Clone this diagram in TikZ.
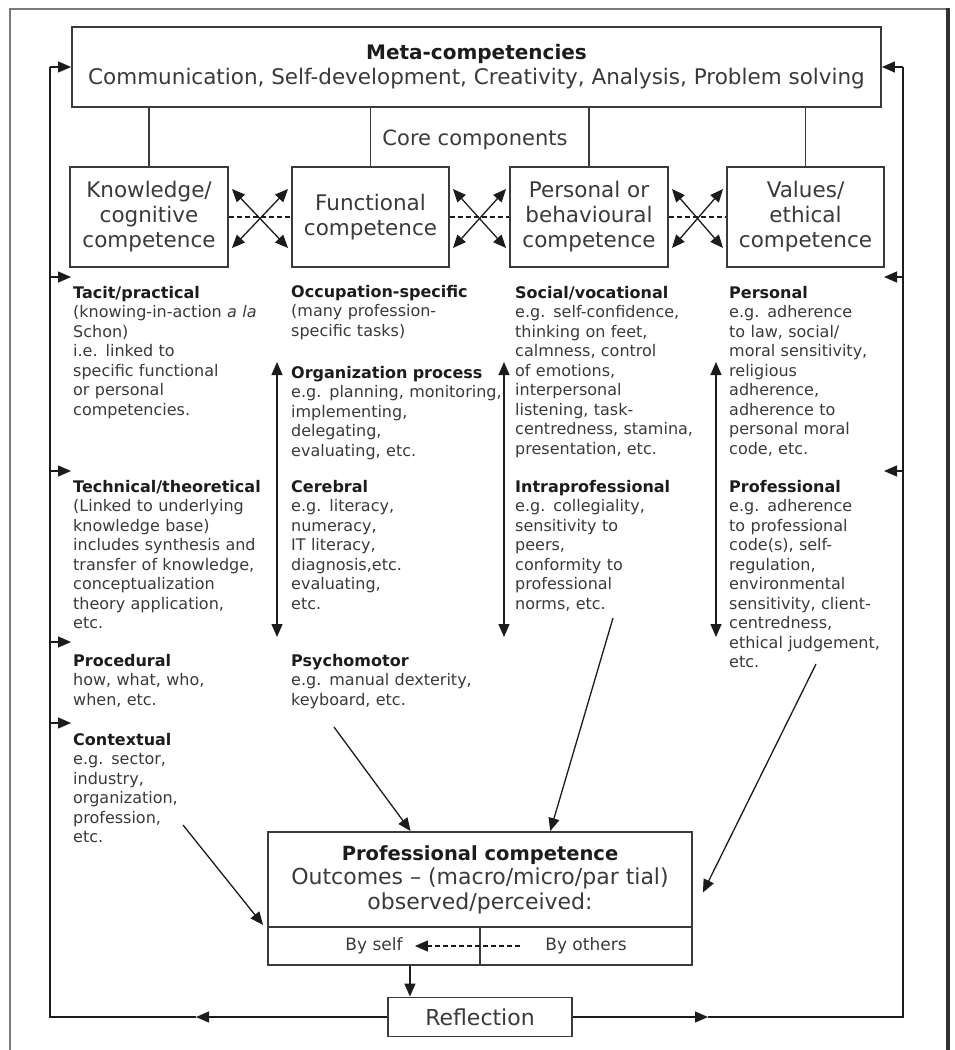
\documentclass[tikz,border=0pt]{standalone}
\usepackage{fontspec}
\setmainfont{DejaVu Sans}
\usetikzlibrary{arrows.meta,calc}
\definecolor{ink}{HTML}{3A3A3A}
\definecolor{dark}{HTML}{1C1C1C}
\definecolor{framegray}{HTML}{7A7A7A}
\newcommand\headline[1]{\textbf{\color{dark}#1}}
\hyphenpenalty=10000
\exhyphenpenalty=10000
\begin{document}
\begin{tikzpicture}[x=1pt,y=-1pt,
  >={Triangle[length=13pt,width=11pt]},
  line/.style={draw=dark, line width=1.3pt},
  box/.style={draw=ink, line width=1.9pt, fill=white, align=center, inner sep=0pt, text=ink},
  corebox/.style={box, minimum height=100pt, font=\fontsize{21.5}{25}\selectfont},
  body/.style={anchor=base west, inner sep=0pt, align=left, text=ink,
    font=\fontsize{16}{19.5}\selectfont},
  arrowto/.style={->},
  twoway/.style={<->},
  dashline/.style={line, dash pattern=on 5pt off 3pt}
]
\useasboundingbox (0,0) rectangle (955,1050);
\fill[white] (0,0) rectangle (955,1050);

% page frame
\draw[line width=2pt, draw=framegray] (10,1050) -- (10,9) -- (948,9);
\draw[line width=3.5pt, draw=black!80] (948,8) -- (948,1050);

% meta-competencies
\node[box, minimum width=809pt, minimum height=80pt, font=\fontsize{21.5}{25}\selectfont] (meta) at (476.5,67)
  {{\fontsize{20}{25}\selectfont\headline{Meta-competencies}}\\Communication, Self-development, Creativity, Analysis, Problem solving};

% core components
\node[corebox, minimum width=158pt] (knowledge) at (149,217) {Knowledge/\\cognitive\\competence};
\node[corebox, minimum width=157pt] (functional) at (370.5,217) {Functional\\competence};
\node[corebox, minimum width=158pt] (personal) at (589,217) {Personal or\\behavioural\\competence};
\node[corebox, minimum width=157pt] (values) at (805.5,217) {Values/\\ethical\\competence};
\node[text=ink, inner sep=0pt, font=\fontsize{21}{25}\selectfont] (core) at (475,140) {Core components};

\foreach \b in {knowledge,functional,personal,values}
  \draw[line, draw=ink, line width=1.6pt] (meta.south -| \b.north) -- (\b.north);

\foreach \a/\b in {knowledge/functional, functional/personal, personal/values}{
  \draw[dashline] (\a.east) -- (\b.west);
  \draw[line, twoway] ($(\a.east)+(3,-28)$) -- ($(\b.west)+(-3,31)$);
  \draw[line, twoway] ($(\a.east)+(3,31)$) -- ($(\b.west)+(-3,-28)$);
}

% column 1: knowledge/cognitive
\node[body, text width=200pt] (tacit) at (73,298)
  {\headline{Tacit/practical}\\(knowing-in-action \textit{a la}\\Schon)\\i.e. linked to\\specific functional\\or personal\\competencies.};
\node[body, text width=200pt] (technical) at (73,492)
  {\headline{Technical/theoretical}\\(Linked to underlying\\knowledge base)\\includes synthesis and\\transfer of knowledge,\\conceptualization\\theory application,\\etc.};
\node[body, text width=200pt] (procedural) at (73,666)
  {\headline{Procedural}\\how, what, who,\\when, etc.};
\node[body, text width=200pt] (contextual) at (73,745)
  {\headline{Contextual}\\e.g. sector,\\industry,\\organization,\\profession,\\etc.};

% column 2: functional
\node[body, text width=215pt] (occupation) at (291,297)
  {\headline{Occupation-specific}\\(many profession-\\specific tasks)};
\node[body, text width=215pt] (organization) at (291,378)
  {\headline{Organization process}\\e.g. planning, monitoring,\\implementing,\\delegating,\\evaluating, etc.};
\node[body, text width=215pt] (cerebral) at (291,492)
  {\headline{Cerebral}\\e.g. literacy,\\numeracy,\\IT literacy,\\diagnosis,etc.\\evaluating,\\etc.};
\node[body, text width=215pt] (psychomotor) at (291,666)
  {\headline{Psychomotor}\\e.g. manual dexterity,\\keyboard, etc.};

% column 3: personal/behavioural
\node[body, text width=195pt] (social) at (515,298)
  {\headline{Social/vocational}\\e.g. self-confidence,\\thinking on feet,\\calmness, control\\of emotions,\\interpersonal\\listening, task-\\centredness, stamina,\\presentation, etc.};
\node[body, text width=195pt] (intra) at (515,492)
  {\headline{Intraprofessional}\\e.g. collegiality,\\sensitivity to\\peers,\\conformity to\\professional\\norms, etc.};

% column 4: values/ethical
\node[body, text width=170pt] (personalv) at (729,298)
  {\headline{Personal}\\e.g. adherence\\to law, social/\\moral sensitivity,\\religious\\adherence,\\adherence to\\personal moral\\code, etc.};
\node[body, text width=170pt] (professional) at (729,492)
  {\headline{Professional}\\e.g. adherence\\to professional\\code(s), self-\\regulation,\\environmental\\sensitivity, client-\\centredness,\\ethical judgement,\\etc.};

% vertical ranges inside the columns
\coordinate (v1t) at (277,362); \coordinate (v1b) at (277,637);
\coordinate (v2t) at (504,362); \coordinate (v2b) at (504,637);
\coordinate (v3t) at (716,362); \coordinate (v3b) at (716,637);
\draw[line, twoway] (v1t) -- (v1b);
\draw[line, twoway] (v2t) -- (v2b);
\draw[line, twoway] (v3t) -- (v3b);

% professional competence outcome
\node[box, minimum width=424pt, minimum height=95pt, font=\fontsize{22}{24.5}\selectfont] (pc) at (480,879.5)
  {{\fontsize{19.5}{24.5}\selectfont\headline{Professional competence}}\\Outcomes -- (macro/micro/par tial)\\observed/perceived:};
\node[box, minimum width=212pt, minimum height=38pt, font=\fontsize{17}{20}\selectfont] (bself) at (374,946) {By self};
\node[box, minimum width=212pt, minimum height=38pt, font=\fontsize{17}{20}\selectfont] (bothers) at (586,946) {By others};
\draw[dashline, arrowto] ($(bothers.west)+(41,0)$) -- ($(bself.east)+(-66,0)$);

% reflection
\node[box, minimum width=184pt, minimum height=39pt, font=\fontsize{22}{24}\selectfont] (refl) at (480,1017) {Reflection};
\coordinate (down) at ($(bself.south east)+(-71,0)$);
\draw[line, arrowto] (down) -- (down |- refl.north);

% arrows from the columns into the outcome box
\coordinate (d1) at (183,825);
\coordinate (d2) at (334,727);
\coordinate (d3) at (613,618);
\coordinate (d4) at (816,664);
\draw[line, arrowto] (d1) -- ($(pc.south west)+(-4,-3)$);
\draw[line, arrowto] (d2) -- ($(pc.north west)!0.337!(pc.north east)$);
\draw[line, arrowto] (d3) -- ($(pc.north west)!0.665!(pc.north east)$);
\draw[line, arrowto] (d4) -- ($(pc.east)+(10,13)$);

% feedback loop: left side
\coordinate (LB) at (50,1017);
\coordinate (LT) at (LB |- meta.west);
\coordinate (ML) at (196,1017);
\draw[line, arrowto] (refl.west) -- (ML);
\draw[line] (ML) -- (LB) -- (LT);
\draw[line, arrowto] (LT) -- (meta.west);
\coordinate (l1) at (50,277);
\coordinate (l2) at (50,471);
\coordinate (l3) at (50,642);
\coordinate (l4) at (50,723);
\draw[line, arrowto] (l1) -- ($(l1 -| tacit.west)+(-2,0)$);
\draw[line, arrowto] (l2) -- ($(l2 -| technical.west)+(-2,0)$);
\draw[line, arrowto] (l3) -- ($(l3 -| procedural.west)+(-2,0)$);
\draw[line, arrowto] (l4) -- ($(l4 -| contextual.west)+(-2,0)$);

% feedback loop: right side
\coordinate (RB) at (903,1017);
\coordinate (RT) at (RB |- meta.east);
\coordinate (MR) at (708,1017);
\draw[line, arrowto] (refl.east) -- (MR);
\draw[line] (MR) -- (RB) -- (RT);
\draw[line, arrowto] (RT) -- (meta.east);
\coordinate (r1) at (903,277); \coordinate (r1e) at (884,277);
\coordinate (r2) at (903,471); \coordinate (r2e) at (884,471);
\draw[line, arrowto] (r1) -- (r1e);
\draw[line, arrowto] (r2) -- (r2e);
\end{tikzpicture}
\end{document}
